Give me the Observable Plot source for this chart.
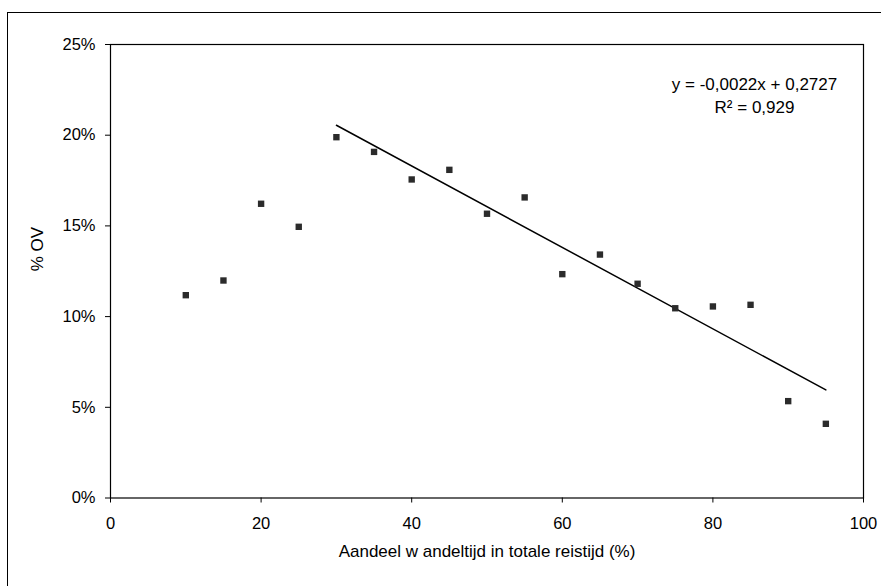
<!DOCTYPE html>
<html>
<head>
<meta charset="utf-8">
<script src="https://cdn.jsdelivr.net/npm/d3@7"></script>
<script src="https://cdn.jsdelivr.net/npm/@observablehq/plot@0.6"></script>
<style>
  html, body { margin: 0; padding: 0; background: #fff; }
  #wrap { position: relative; width: 881px; height: 586px; overflow: hidden; background: #fff; }
  #outer { position: absolute; left: 7px; top: 12px; width: 900px; height: 600px;
           border-left: 1px solid #000; border-top: 1px solid #000; }
  #chart { position: absolute; left: 0; top: 0; }
</style>
</head>
<body>
<div id="wrap"><div id="outer"></div><div id="chart"></div></div>
<script>
// Data
const shareWalk = [10, 15, 20, 25, 30, 35, 40, 45, 50, 55, 60, 65, 70, 75, 80, 85, 90, 95];
const shareOV   = [0.1118, 0.1199, 0.1622, 0.1495, 0.1989, 0.1908, 0.1756, 0.1809, 0.1567,
                   0.1657, 0.1234, 0.1342, 0.1181, 0.1046, 0.1056, 0.1065, 0.0534, 0.0409];
const trendFrom = 30; // trendline fitted from this x onward
const xTicks = [0, 20, 40, 60, 80, 100];
const yTicks = [0, 0.05, 0.10, 0.15, 0.20, 0.25];
const xLabel = "Aandeel w andeltijd in totale reistijd (%)";
const yLabel = "% OV";
const eqLine1 = "y = -0,0022x + 0,2727";
const eqLine2 = "R\u00B2 = 0,929";

const data = shareWalk.map((x, i) => ({x, y: shareOV[i]}));
const trendData = data.filter(d => d.x >= trendFrom);
const font = "'Liberation Sans', Arial, sans-serif";

const chart = Plot.plot({
  width: 881,
  height: 586,
  marginLeft: 110,
  marginRight: 18,
  marginTop: 44,
  marginBottom: 88.5,
  style: {fontFamily: font, fontSize: "16.5px", color: "#000", background: "transparent"},
  x: {domain: [0, 100]},
  y: {domain: [0, 0.25]},
  marks: [
    Plot.frame({stroke: "#000", strokeWidth: 1.2}),
    Plot.axisX({ticks: xTicks, tickSize: 5, tickPadding: 14.5, label: null, stroke: "#000"}),
    Plot.axisY({ticks: yTicks, tickFormat: d3.format(".0%"), tickSize: 5, tickPadding: 10, label: null, stroke: "#000"}),
    Plot.linearRegressionY(trendData, {x: "x", y: "y", stroke: "#000", strokeWidth: 1.5, ci: 0}),
    Plot.dot(data, {x: "x", y: "y", symbol: "square", r: 3.6, fill: "#2b2b2b", stroke: "none"}),
    Plot.text([xLabel], {frameAnchor: "bottom", dy: 59, fontSize: 17, fill: "#000"}),
    Plot.text([yLabel], {frameAnchor: "left", dx: -73, rotate: -90, fontSize: 17, fill: "#000"}),
    Plot.text([eqLine1], {frameAnchor: "top-right", dx: -109, dy: 33, textAnchor: "middle", fontSize: 17, fill: "#000"}),
    Plot.text([eqLine2], {frameAnchor: "top-right", dx: -109, dy: 56, textAnchor: "middle", fontSize: 17, fill: "#000"})
  ]
});
document.getElementById("chart").appendChild(chart);
</script>
</body>
</html>
